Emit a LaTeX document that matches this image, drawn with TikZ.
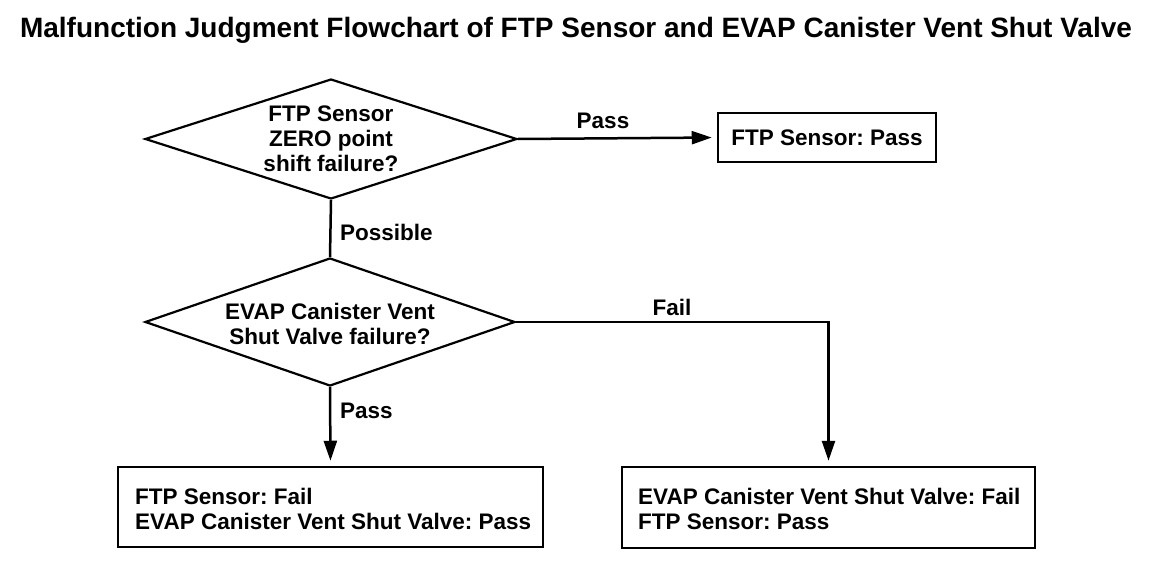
\documentclass[tikz,border=0pt]{standalone}
\usepackage{fontspec}
\setmainfont{Liberation Sans}
\frenchspacing
\usetikzlibrary{shapes.geometric,arrows.meta}
\begin{document}
\begin{tikzpicture}[x=1pt,y=-1pt,
  txt/.style={font=\bfseries\fontsize{22.5}{25}\selectfont,inner sep=0pt},
  dia/.style={diamond,draw,line width=2.2pt,minimum width=#1,inner sep=0pt},
  box/.style={draw,line width=2.5pt,inner sep=0pt},
  conn/.style={line width=2.5pt},
  arr/.style={conn,-{Triangle[length=20pt,width=13pt]}}]
\useasboundingbox (0,0) rectangle (1152,578);
\node[txt,font=\bfseries\fontsize{28}{30}\selectfont] (title) at (576,30) {Malfunction Judgment Flowchart of FTP Sensor and EVAP Canister Vent Shut Valve};
\node[dia=372pt,minimum height=120pt] (d1) at (331,139) {};
\node[txt,align=center] (d1t) at (331,139) {FTP Sensor\\ZERO point\\shift failure?};
\node[dia=370pt,minimum height=128pt] (d2) at (330,322) {};
\node[txt,align=center] (d2t) at (330,324) {EVAP Canister Vent\\Shut Valve failure?};
\node[box,minimum width=218pt,minimum height=49pt] (p1) at (827,137.5) {};
\node[txt] (p1t) at (827,138) {FTP Sensor: Pass};
\node[box,minimum width=425pt,minimum height=80pt] (bl) at (330.5,507) {};
\node[txt,align=left,anchor=west] (blt) at (135,509) {FTP Sensor: Fail\\EVAP Canister Vent Shut Valve: Pass};
\node[box,minimum width=413pt,minimum height=81pt] (br) at (828.5,507.5) {};
\node[txt,align=left,anchor=west] (brt) at (638,509) {EVAP Canister Vent Shut Valve: Fail\\FTP Sensor: Pass};
\draw[arr,shorten >=5pt] (d1.east) -- (p1.west);
\draw[conn] (d1.south) -- (d2.north);
\draw[arr,shorten >=5pt] (d2.south) -- (bl.north);
\draw[arr,shorten >=5pt] (d2.east) -| (br.north);
\node[txt] (l1) at (603,121) {Pass};
\node[txt,anchor=west] (l2) at (340,232) {Possible};
\node[txt] (l3) at (672,307) {Fail};
\node[txt,anchor=west] (l4) at (340,411) {Pass};
\end{tikzpicture}
\end{document}
